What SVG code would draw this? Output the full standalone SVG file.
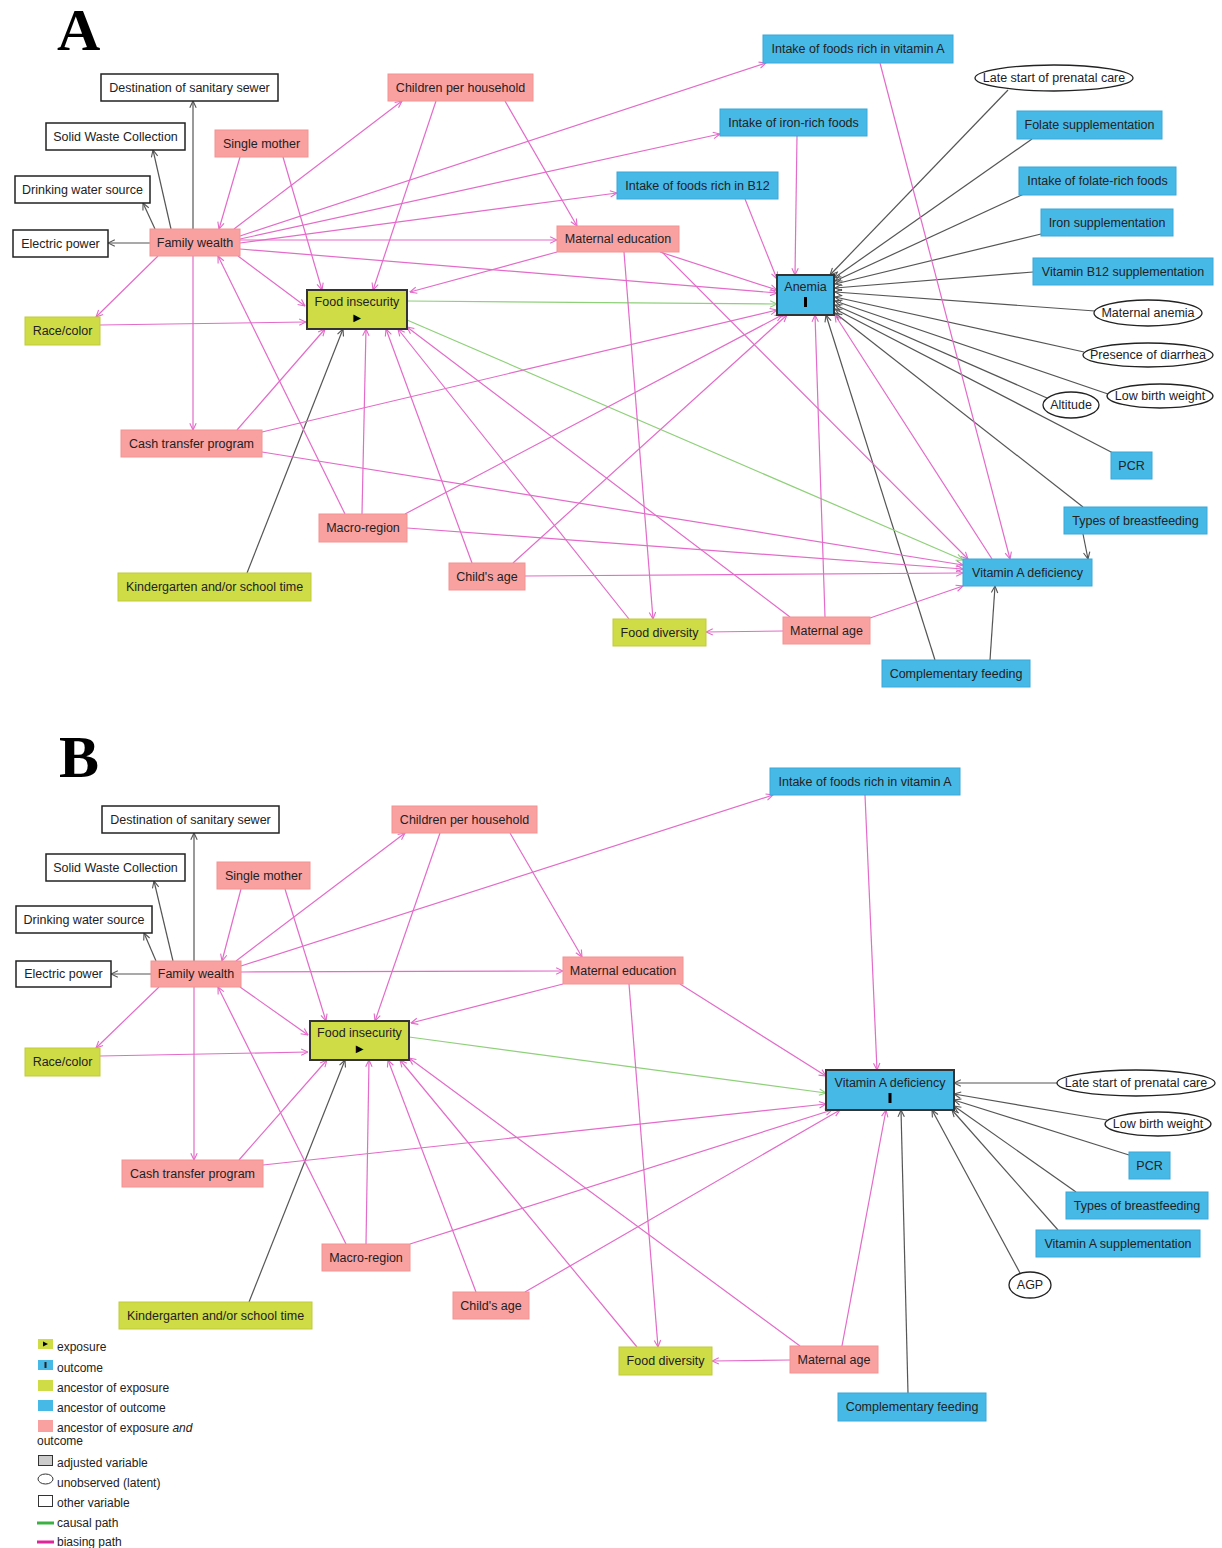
<svg xmlns="http://www.w3.org/2000/svg" width="1222" height="1548" viewBox="0 0 1222 1548">
<style>
text{font-family:"Liberation Sans",Arial,sans-serif;font-size:12.5px;fill:#222;text-anchor:middle}
.big{font-family:"Liberation Serif","Times New Roman",serif;font-weight:bold;font-size:60px;fill:#000;text-anchor:start}
.pk{fill:#f9a1a1;stroke:#f39292;stroke-width:1}
.bl{fill:#47b9e7;stroke:#3aa8d8;stroke-width:1}
.gr{fill:#cfdc45;stroke:#bfcc3a;stroke-width:1}
.wh{fill:#fff;stroke:#222;stroke-width:1.5}
.ex{fill:#cfdc45;stroke:#333;stroke-width:2}
.oc{fill:#47b9e7;stroke:#333;stroke-width:2}
.el{fill:#fff;stroke:#222;stroke-width:1.3}
.ep{stroke:#e36bc9;stroke-width:1.2;fill:none;marker-end:url(#ap)}
.eg{stroke:#555;stroke-width:1.2;fill:none;marker-end:url(#ag)}
.ec{stroke:#8fd07a;stroke-width:1.2;fill:none;marker-end:url(#ac)}
.lg text{font-size:12px;text-anchor:start}
</style>
<defs>
<marker id="ap" viewBox="0 0 10 10" refX="9.5" refY="5" markerWidth="8" markerHeight="8" markerUnits="userSpaceOnUse" orient="auto"><path d="M1,1 L9.5,5 L1,9" fill="none" stroke="#e36bc9" stroke-width="1.4"/></marker>
<marker id="ag" viewBox="0 0 10 10" refX="9.5" refY="5" markerWidth="8" markerHeight="8" markerUnits="userSpaceOnUse" orient="auto"><path d="M1,1 L9.5,5 L1,9" fill="none" stroke="#555" stroke-width="1.4"/></marker>
<marker id="ac" viewBox="0 0 10 10" refX="9.5" refY="5" markerWidth="8" markerHeight="8" markerUnits="userSpaceOnUse" orient="auto"><path d="M1,1 L9.5,5 L1,9" fill="none" stroke="#8fd07a" stroke-width="1.4"/></marker>
</defs>
<rect width="1222" height="1548" fill="#fff"/>
<text class="big" x="57" y="50">A</text>
<text class="big" x="59" y="777">B</text>

<g id="edges-a">
<line class="eg" x1="193" y1="229" x2="193" y2="101"/>
<line class="eg" x1="171" y1="229" x2="153" y2="150"/>
<line class="eg" x1="155" y1="229" x2="143" y2="203"/>
<line class="eg" x1="150" y1="243" x2="108" y2="243"/>
<line class="eg" x1="247" y1="573" x2="343" y2="329"/>
<line class="eg" x1="935" y1="660" x2="826" y2="315"/>
<line class="eg" x1="990" y1="660" x2="995" y2="586"/>
<line class="eg" x1="1083" y1="534" x2="1088" y2="559"/>
<line class="eg" x1="1083" y1="507" x2="835" y2="313"/>
<line class="eg" x1="1113" y1="453" x2="835" y2="309"/>
<line class="eg" x1="1047" y1="398" x2="835" y2="305"/>
<line class="eg" x1="1108" y1="394" x2="835" y2="301"/>
<line class="eg" x1="1084" y1="352" x2="835" y2="297"/>
<line class="eg" x1="1095" y1="311" x2="835" y2="292"/>
<line class="eg" x1="1033" y1="272" x2="835" y2="288"/>
<line class="eg" x1="1041" y1="234" x2="835" y2="284"/>
<line class="eg" x1="1026" y1="193" x2="835" y2="281"/>
<line class="eg" x1="1032" y1="139" x2="834" y2="278"/>
<line class="eg" x1="1008" y1="90" x2="830" y2="275"/>
<line class="ec" x1="407" y1="301" x2="777" y2="304"/>
<line class="ec" x1="407" y1="320" x2="963" y2="560"/>
<line class="ep" x1="158" y1="256" x2="96" y2="317"/>
<line class="ep" x1="193" y1="256" x2="193" y2="430"/>
<line class="ep" x1="238" y1="256" x2="305" y2="306"/>
<line class="ep" x1="234" y1="229" x2="402" y2="101"/>
<line class="ep" x1="240" y1="236" x2="766" y2="63"/>
<line class="ep" x1="240" y1="239" x2="720" y2="134"/>
<line class="ep" x1="240" y1="243" x2="617" y2="193"/>
<line class="ep" x1="240" y1="240" x2="557" y2="240"/>
<line class="ep" x1="240" y1="249" x2="777" y2="293"/>
<line class="ep" x1="345" y1="514" x2="218" y2="256"/>
<line class="ep" x1="240" y1="157" x2="219" y2="229"/>
<line class="ep" x1="283" y1="157" x2="322" y2="290"/>
<line class="ep" x1="100" y1="325" x2="306" y2="322"/>
<line class="ep" x1="436" y1="101" x2="373" y2="290"/>
<line class="ep" x1="557" y1="252" x2="410" y2="292"/>
<line class="ep" x1="237" y1="430" x2="325" y2="329"/>
<line class="ep" x1="362" y1="514" x2="366" y2="329"/>
<line class="ep" x1="472" y1="563" x2="386" y2="329"/>
<line class="ep" x1="629" y1="619" x2="398" y2="329"/>
<line class="ep" x1="790" y1="617" x2="407" y2="327"/>
<line class="ep" x1="505" y1="101" x2="577" y2="226"/>
<line class="ep" x1="624" y1="252" x2="653" y2="619"/>
<line class="ep" x1="660" y1="252" x2="777" y2="290"/>
<line class="ep" x1="662" y1="252" x2="968" y2="559"/>
<line class="ep" x1="880" y1="63" x2="1010" y2="559"/>
<line class="ep" x1="797" y1="136" x2="795" y2="275"/>
<line class="ep" x1="745" y1="199" x2="777" y2="279"/>
<line class="ep" x1="262" y1="432" x2="777" y2="310"/>
<line class="ep" x1="262" y1="452" x2="963" y2="565"/>
<line class="ep" x1="405" y1="514" x2="782" y2="315"/>
<line class="ep" x1="407" y1="528" x2="963" y2="569"/>
<line class="ep" x1="513" y1="563" x2="787" y2="315"/>
<line class="ep" x1="525" y1="576" x2="963" y2="573"/>
<line class="ep" x1="825" y1="617" x2="815" y2="315"/>
<line class="ep" x1="870" y1="618" x2="963" y2="586"/>
<line class="ep" x1="783" y1="631" x2="706" y2="632"/>
<line class="ep" x1="992" y1="559" x2="835" y2="315"/>
</g>

<g id="edges-b">
<line class="eg" x1="194" y1="961" x2="194" y2="833"/>
<line class="eg" x1="173" y1="961" x2="154" y2="881"/>
<line class="eg" x1="156" y1="961" x2="144" y2="933"/>
<line class="eg" x1="151" y1="974" x2="111" y2="974"/>
<line class="eg" x1="249" y1="1302" x2="345" y2="1060"/>
<line class="eg" x1="908" y1="1393" x2="901" y2="1110"/>
<line class="eg" x1="1020" y1="1273" x2="932" y2="1110"/>
<line class="eg" x1="1058" y1="1230" x2="952" y2="1110"/>
<line class="eg" x1="1076" y1="1192" x2="954" y2="1106"/>
<line class="eg" x1="1129" y1="1155" x2="954" y2="1100"/>
<line class="eg" x1="1107" y1="1120" x2="954" y2="1094"/>
<line class="eg" x1="1057" y1="1083" x2="954" y2="1083"/>
<line class="ec" x1="409" y1="1037" x2="826" y2="1093"/>
<line class="ep" x1="159" y1="987" x2="96" y2="1048"/>
<line class="ep" x1="194" y1="987" x2="194" y2="1160"/>
<line class="ep" x1="240" y1="987" x2="308" y2="1035"/>
<line class="ep" x1="236" y1="961" x2="405" y2="833"/>
<line class="ep" x1="241" y1="966" x2="773" y2="795"/>
<line class="ep" x1="241" y1="972" x2="563" y2="971"/>
<line class="ep" x1="346" y1="1244" x2="218" y2="987"/>
<line class="ep" x1="241" y1="889" x2="222" y2="961"/>
<line class="ep" x1="285" y1="889" x2="326" y2="1021"/>
<line class="ep" x1="100" y1="1056" x2="308" y2="1052"/>
<line class="ep" x1="440" y1="833" x2="375" y2="1021"/>
<line class="ep" x1="563" y1="984" x2="411" y2="1023"/>
<line class="ep" x1="239" y1="1160" x2="327" y2="1060"/>
<line class="ep" x1="366" y1="1244" x2="369" y2="1060"/>
<line class="ep" x1="476" y1="1292" x2="388" y2="1060"/>
<line class="ep" x1="637" y1="1347" x2="400" y2="1060"/>
<line class="ep" x1="800" y1="1346" x2="409" y2="1058"/>
<line class="ep" x1="510" y1="833" x2="582" y2="957"/>
<line class="ep" x1="629" y1="984" x2="658" y2="1347"/>
<line class="ep" x1="680" y1="984" x2="826" y2="1076"/>
<line class="ep" x1="865" y1="795" x2="877" y2="1070"/>
<line class="ep" x1="263" y1="1165" x2="826" y2="1104"/>
<line class="ep" x1="410" y1="1244" x2="832" y2="1110"/>
<line class="ep" x1="525" y1="1292" x2="840" y2="1110"/>
<line class="ep" x1="842" y1="1346" x2="886" y2="1110"/>
<line class="ep" x1="790" y1="1360" x2="712" y2="1361"/>
</g>

<g id="a-destination-sewer"><rect class="wh" x="101" y="74" width="177" height="27"/><text x="189.5" y="91.5">Destination of sanitary sewer</text></g>
<g id="a-solid-waste"><rect class="wh" x="46" y="123" width="139" height="27"/><text x="115.5" y="140.5">Solid Waste Collection</text></g>
<g id="a-drinking-water"><rect class="wh" x="15" y="176" width="135" height="27"/><text x="82.5" y="193.5">Drinking water source</text></g>
<g id="a-electric-power"><rect class="wh" x="13" y="230" width="95" height="27"/><text x="60.5" y="247.5">Electric power</text></g>
<g id="a-family-wealth"><rect class="pk" x="150" y="229" width="90" height="27"/><text x="195" y="246.5">Family wealth</text></g>
<g id="a-single-mother"><rect class="pk" x="215" y="130" width="93" height="27"/><text x="261.5" y="147.5">Single mother</text></g>
<g id="a-food-insecurity"><rect class="ex" x="307" y="290" width="100" height="39"/><text x="357" y="306">Food insecurity</text><text x="357" y="321" style="font-family:'DejaVu Sans',sans-serif;font-size:10px;fill:#000">▶</text></g>
<g id="a-race-color"><rect class="gr" x="25" y="317" width="75" height="28"/><text x="62.5" y="335">Race/color</text></g>
<g id="a-children-household"><rect class="pk" x="388" y="74" width="145" height="27"/><text x="460.5" y="91.5">Children per household</text></g>
<g id="a-intake-vitamin-a"><rect class="bl" x="763" y="35" width="190" height="28"/><text x="858" y="53">Intake of foods rich in vitamin A</text></g>
<g id="a-intake-iron"><rect class="bl" x="720" y="109" width="147" height="27"/><text x="793.5" y="126.5">Intake of iron-rich foods</text></g>
<g id="a-intake-b12"><rect class="bl" x="617" y="172" width="161" height="27"/><text x="697.5" y="189.5">Intake of foods rich in B12</text></g>
<g id="a-maternal-education"><rect class="pk" x="557" y="226" width="122" height="26"/><text x="618" y="243">Maternal education</text></g>
<g id="a-anemia"><rect class="oc" x="777" y="275" width="57" height="40"/><text x="805.5" y="291">Anemia</text><rect x="804" y="297" width="3" height="10" fill="#000"/></g>
<g id="a-late-prenatal"><ellipse class="el" cx="1054" cy="78" rx="79" ry="13"/><text x="1054" y="82">Late start of prenatal care</text></g>
<g id="a-folate-supp"><rect class="bl" x="1017" y="111" width="145" height="28"/><text x="1089.5" y="129">Folate supplementation</text></g>
<g id="a-intake-folate"><rect class="bl" x="1019" y="167" width="157" height="28"/><text x="1097.5" y="185">Intake of folate-rich foods</text></g>
<g id="a-iron-supp"><rect class="bl" x="1041" y="209" width="132" height="27"/><text x="1107" y="226.5">Iron supplementation</text></g>
<g id="a-b12-supp"><rect class="bl" x="1033" y="258" width="180" height="27"/><text x="1123" y="275.5">Vitamin B12 supplementation</text></g>
<g id="a-maternal-anemia"><ellipse class="el" cx="1148" cy="313" rx="54" ry="13"/><text x="1148" y="317">Maternal anemia</text></g>
<g id="a-diarrhea"><ellipse class="el" cx="1148" cy="355" rx="65" ry="12"/><text x="1148" y="359">Presence of diarrhea</text></g>
<g id="a-low-birth-weight"><ellipse class="el" cx="1160" cy="396" rx="53" ry="12"/><text x="1160" y="400">Low birth weight</text></g>
<g id="a-altitude"><ellipse class="el" cx="1071" cy="405" rx="28" ry="13"/><text x="1071" y="409">Altitude</text></g>
<g id="a-pcr"><rect class="bl" x="1111" y="452" width="41" height="27"/><text x="1131.5" y="469.5">PCR</text></g>
<g id="a-breastfeeding"><rect class="bl" x="1064" y="507" width="143" height="27"/><text x="1135.5" y="524.5">Types of breastfeeding</text></g>
<g id="a-vitamin-a-deficiency"><rect class="bl" x="963" y="559" width="129" height="27"/><text x="1027.5" y="576.5">Vitamin A deficiency</text></g>
<g id="a-cash-transfer"><rect class="pk" x="121" y="430" width="141" height="27"/><text x="191.5" y="447.5">Cash transfer program</text></g>
<g id="a-macro-region"><rect class="pk" x="319" y="514" width="88" height="28"/><text x="363" y="532">Macro-region</text></g>
<g id="a-kindergarten"><rect class="gr" x="118" y="573" width="193" height="28"/><text x="214.5" y="591">Kindergarten and/or school time</text></g>
<g id="a-childs-age"><rect class="pk" x="449" y="563" width="76" height="27"/><text x="487" y="580.5">Child's age</text></g>
<g id="a-food-diversity"><rect class="gr" x="613" y="619" width="93" height="27"/><text x="659.5" y="636.5">Food diversity</text></g>
<g id="a-maternal-age"><rect class="pk" x="783" y="617" width="87" height="27"/><text x="826.5" y="634.5">Maternal age</text></g>
<g id="a-complementary-feeding"><rect class="bl" x="882" y="660" width="148" height="27"/><text x="956" y="677.5">Complementary feeding</text></g>

<g id="b-destination-sewer"><rect class="wh" x="102" y="806" width="177" height="27"/><text x="190.5" y="823.5">Destination of sanitary sewer</text></g>
<g id="b-solid-waste"><rect class="wh" x="46" y="854" width="139" height="27"/><text x="115.5" y="871.5">Solid Waste Collection</text></g>
<g id="b-drinking-water"><rect class="wh" x="16" y="906" width="136" height="27"/><text x="84" y="923.5">Drinking water source</text></g>
<g id="b-electric-power"><rect class="wh" x="16" y="961" width="95" height="26"/><text x="63.5" y="978">Electric power</text></g>
<g id="b-family-wealth"><rect class="pk" x="151" y="961" width="90" height="26"/><text x="196" y="978">Family wealth</text></g>
<g id="b-single-mother"><rect class="pk" x="217" y="862" width="93" height="27"/><text x="263.5" y="879.5">Single mother</text></g>
<g id="b-food-insecurity"><rect class="ex" x="310" y="1021" width="99" height="39"/><text x="359.5" y="1037">Food insecurity</text><text x="359.5" y="1052" style="font-family:'DejaVu Sans',sans-serif;font-size:10px;fill:#000">▶</text></g>
<g id="b-race-color"><rect class="gr" x="25" y="1048" width="75" height="28"/><text x="62.5" y="1066">Race/color</text></g>
<g id="b-children-household"><rect class="pk" x="392" y="806" width="145" height="27"/><text x="464.5" y="823.5">Children per household</text></g>
<g id="b-intake-vitamin-a"><rect class="bl" x="770" y="768" width="190" height="27"/><text x="865" y="785.5">Intake of foods rich in vitamin A</text></g>
<g id="b-maternal-education"><rect class="pk" x="563" y="957" width="120" height="27"/><text x="623" y="974.5">Maternal education</text></g>
<g id="b-vitamin-a-deficiency"><rect class="oc" x="826" y="1070" width="128" height="40"/><text x="890" y="1087">Vitamin A deficiency</text><rect x="888.5" y="1093" width="3" height="10" fill="#000"/></g>
<g id="b-late-prenatal"><ellipse class="el" cx="1136" cy="1083" rx="79" ry="13"/><text x="1136" y="1087">Late start of prenatal care</text></g>
<g id="b-low-birth-weight"><ellipse class="el" cx="1158" cy="1124" rx="53" ry="12"/><text x="1158" y="1128">Low birth weight</text></g>
<g id="b-pcr"><rect class="bl" x="1129" y="1152" width="41" height="27"/><text x="1149.5" y="1169.5">PCR</text></g>
<g id="b-breastfeeding"><rect class="bl" x="1066" y="1192" width="142" height="27"/><text x="1137" y="1209.5">Types of breastfeeding</text></g>
<g id="b-vitamin-a-supp"><rect class="bl" x="1036" y="1230" width="164" height="27"/><text x="1118" y="1247.5">Vitamin A supplementation</text></g>
<g id="b-agp"><ellipse class="el" cx="1030" cy="1285" rx="21" ry="13"/><text x="1030" y="1289">AGP</text></g>
<g id="b-cash-transfer"><rect class="pk" x="122" y="1160" width="141" height="27"/><text x="192.5" y="1177.5">Cash transfer program</text></g>
<g id="b-macro-region"><rect class="pk" x="322" y="1244" width="88" height="27"/><text x="366" y="1261.5">Macro-region</text></g>
<g id="b-kindergarten"><rect class="gr" x="119" y="1302" width="193" height="27"/><text x="215.5" y="1319.5">Kindergarten and/or school time</text></g>
<g id="b-childs-age"><rect class="pk" x="453" y="1292" width="76" height="27"/><text x="491" y="1309.5">Child's age</text></g>
<g id="b-food-diversity"><rect class="gr" x="619" y="1347" width="93" height="28"/><text x="665.5" y="1365">Food diversity</text></g>
<g id="b-maternal-age"><rect class="pk" x="790" y="1346" width="88" height="27"/><text x="834" y="1363.5">Maternal age</text></g>
<g id="b-complementary-feeding"><rect class="bl" x="838" y="1393" width="148" height="28"/><text x="912" y="1411">Complementary feeding</text></g>

<g id="legend" class="lg">
<rect x="38" y="1339" width="15" height="10" fill="#cfdc45"/><path d="M43,1341.5 L48,1344 L43,1346.5 Z" fill="#000"/><text x="57" y="1351">exposure</text>
<rect x="38" y="1360" width="15" height="10" fill="#47b9e7"/><rect x="44.5" y="1362" width="2" height="6" fill="#222"/><text x="57" y="1372">outcome</text>
<rect x="38" y="1380" width="15" height="11" fill="#cfdc45"/><text x="57" y="1392">ancestor of exposure</text>
<rect x="38" y="1400" width="15" height="11" fill="#47b9e7"/><text x="57" y="1412">ancestor of outcome</text>
<rect x="38" y="1420" width="15" height="12" fill="#f9a1a1"/><text x="57" y="1432">ancestor of exposure <tspan font-style="italic">and</tspan></text><text x="37" y="1445">outcome</text>
<rect x="38.5" y="1455.5" width="14" height="10" fill="#ccc" stroke="#333" stroke-width="1"/><text x="57" y="1467">adjusted variable</text>
<ellipse cx="45.5" cy="1479" rx="7.5" ry="5" fill="#fff" stroke="#333" stroke-width="1"/><text x="57" y="1487">unobserved (latent)</text>
<rect x="38.5" y="1495.5" width="14" height="11" fill="#fff" stroke="#333" stroke-width="1"/><text x="57" y="1507">other variable</text>
<line x1="37" y1="1523" x2="54" y2="1523" stroke="#3cb043" stroke-width="3"/><text x="57" y="1527">causal path</text>
<line x1="37" y1="1542" x2="54" y2="1542" stroke="#e0249a" stroke-width="3"/><text x="57" y="1546">biasing path</text>
</g>
</svg>
